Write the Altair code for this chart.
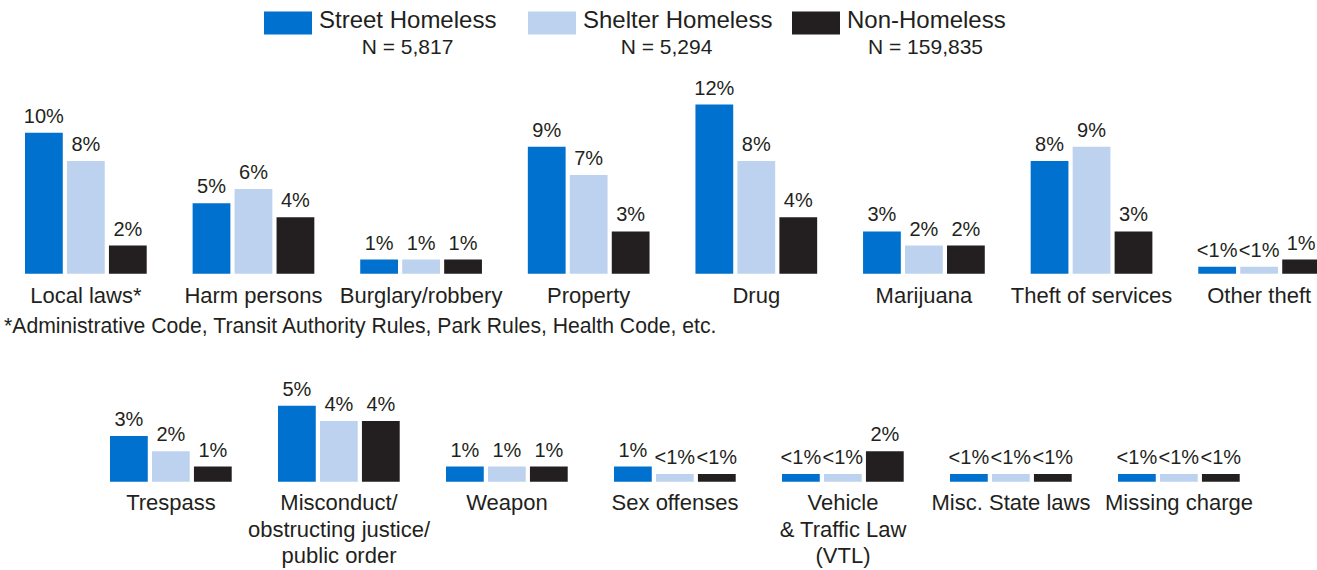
import altair as alt
import pandas as pd

FONT = "Liberation Sans"
TXT = "#231F20"

groups = ["Street Homeless", "Shelter Homeless", "Non-Homeless"]
group_n = ["N = 5,817", "N = 5,294", "N = 159,835"]
colors = ["#0071CE", "#BDD2EF", "#231F20"]

top_cats = ["Local laws*", "Harm persons", "Burglary/robbery", "Property",
            "Drug", "Marijuana", "Theft of services", "Other theft"]
top_street = [10, 5, 1, 9, 12, 3, 8, 0.5]
top_shelter = [8, 6, 1, 7, 8, 2, 9, 0.5]
top_non = [2, 4, 1, 3, 4, 2, 3, 1]

bot_cats = ["Trespass", "Misconduct/\nobstructing justice/\npublic order", "Weapon",
            "Sex offenses", "Vehicle\n& Traffic Law\n(VTL)", "Misc. State laws",
            "Missing charge"]
bot_street = [3, 5, 1, 1, 0.5, 0.5, 0.5]
bot_shelter = [2, 4, 1, 0.5, 0.5, 0.5, 0.5]
bot_non = [1, 4, 1, 0.5, 2, 0.5, 0.5]

footnote = "*Administrative Code, Transit Authority Rules, Park Rules, Health Code, etc."


def lab(v):
    return "<1%" if v < 1 else f"{v:g}%"


def long_df(cats, s1, s2, s3):
    rows = []
    for c, a, b, d in zip(cats, s1, s2, s3):
        for g, v in zip(groups, (a, b, d)):
            rows.append({"cat": c, "group": g, "value": v, "label": lab(v)})
    return pd.DataFrame(rows)


top_df = long_df(top_cats, top_street, top_shelter, top_non)
bot_df = long_df(bot_cats, bot_street, bot_shelter, bot_non)

color_enc = alt.Color("group:N", scale=alt.Scale(domain=groups, range=colors), legend=None)


def row(df, cats, xrange, ydomain, yrange, label_y):
    x = alt.X("cat:N", sort=cats, axis=None,
              scale=alt.Scale(domain=cats, range=xrange, paddingInner=46 / 168, paddingOuter=0))
    xo = alt.XOffset("group:N", sort=groups,
                     scale=alt.Scale(domain=groups, paddingInner=0.1, paddingOuter=0))
    y = alt.Y("value:Q", axis=None,
              scale=alt.Scale(domain=ydomain, range=yrange, nice=False, zero=True))
    base = alt.Chart(df)
    bars = base.mark_bar().encode(x=x, xOffset=xo, y=y, color=color_enc)
    vals = base.mark_text(dy=-10, baseline="alphabetic", fontSize=20, font=FONT,
                          color=TXT).encode(x=x, xOffset=xo, y=y, text="label:N")
    cat_df = pd.DataFrame({"cat": cats})
    cats_txt = alt.Chart(cat_df).mark_text(baseline="alphabetic", fontSize=22, font=FONT,
                                           color=TXT, lineBreak="\n", lineHeight=26.5).encode(
        x=x, y=alt.value(label_y), text="cat:N")
    return alt.layer(bars, vals, cats_txt)


top = row(top_df, top_cats, [25, 1320], [0, 10], [273.7, 132.7], 303)
bot = row(bot_df, bot_cats, [110, 1240], [0, 5], [481.7, 405.7], 510)

leg_df = pd.DataFrame({"group": groups, "n": group_n})
lx = alt.X("group:N", sort=groups, axis=None,
           scale=alt.Scale(type="point", domain=groups, range=[264, 792], padding=0))
leg_sw = alt.Chart(leg_df).mark_rect(x2Offset=48).encode(
    x=lx, x2=alt.X2("group:N"), y=alt.value(11.5), y2=alt.value(34.5), color=color_enc)
leg_lbl = alt.Chart(leg_df).mark_text(align="left", dx=55, baseline="alphabetic",
                                      fontSize=24, font=FONT, color=TXT).encode(
    x=lx, y=alt.value(27.5), text="group:N")
leg_n = alt.Chart(leg_df).mark_text(align="center", baseline="alphabetic", fontSize=21,
                                    font=FONT, color=TXT).encode(
    x=alt.X("group:N", sort=groups, axis=None,
            scale=alt.Scale(type="point", domain=groups, range=[407.5, 925.5], padding=0)),
    y=alt.value(53.5), text="n:N")

foot = alt.Chart(pd.DataFrame({"t": [footnote]})).mark_text(
    align="left", baseline="alphabetic", fontSize=21.2, font=FONT, color=TXT).encode(
    x=alt.value(4), y=alt.value(333), text="t:N")

chart = alt.layer(
    alt.layer(leg_sw, leg_lbl), leg_n, top, bot, foot
).resolve_scale(x="independent", y="independent").properties(
    width=1317, height=570, autosize="none", padding=0
).configure_view(stroke=None)

chart.save("out.html", embed_options={"renderer": "svg", "actions": False})
